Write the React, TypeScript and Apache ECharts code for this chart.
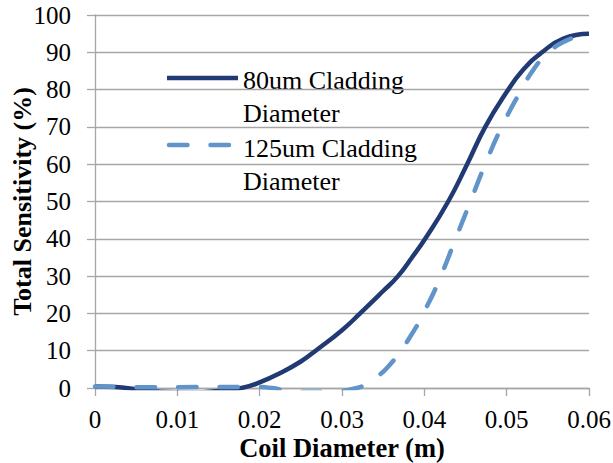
import React, { useEffect, useRef } from "react";
import * as echarts from "echarts";

const xTicks = [0, 0.01, 0.02, 0.03, 0.04, 0.05, 0.06];
const yTicks = [0, 10, 20, 30, 40, 50, 60, 70, 80, 90, 100];

const seriesNames = ["80um Cladding Diameter", "125um Cladding Diameter"];
const legendLines = [
  ["80um Cladding", "Diameter"],
  ["125um Cladding", "Diameter"],
];

const xSolid = [0, 0.0025, 0.005, 0.008, 0.012, 0.015, 0.0178, 0.02, 0.0225, 0.025, 0.0268, 0.03, 0.0322, 0.035, 0.0368, 0.0385, 0.0401, 0.0429, 0.0452, 0.0474, 0.0499, 0.052, 0.0543, 0.0569, 0.06];
const ySolid = [0.4, 0.25, -0.3, -1, -1.2, -0.8, 0, 1.5, 4, 7.1, 10, 15.5, 20, 26, 30, 35, 40, 50, 60, 70, 79, 85.3, 90, 93.7, 95];

const xDashed = [0, 0.003, 0.006, 0.01, 0.015, 0.019, 0.0215, 0.024, 0.028, 0.0318, 0.0335, 0.0356, 0.0383, 0.0405, 0.042, 0.0438, 0.0456, 0.0474, 0.0494, 0.0518, 0.0533, 0.055, 0.0573, 0.06];
const yDashed = [0.4, 0.3, 0.2, 0.2, 0.3, 0.3, 0, -1, -1, 0, 2, 5.7, 13.8, 22.7, 30, 40, 50, 60, 70, 80, 85.5, 89.8, 93.2, 95];

const SOLID = "#213a73";
const DASHED = "#6195c9";
const GRID = "#a6a6a6";
const FONT = "'Liberation Serif', 'Times New Roman', Times, serif";

export default function App() {
  const ref = useRef<HTMLDivElement>(null);
  useEffect(() => {
    if (!ref.current) return;
    const chart = echarts.init(ref.current, undefined, { renderer: "svg" });
    const pair = (xs: number[], ys: number[]) => xs.map((x, i) => [x, ys[i]]);
    chart.setOption({
      animation: false,
      backgroundColor: "#ffffff",
      textStyle: { fontFamily: FONT },
      grid: { left: 95, right: 24, top: 15, bottom: 75, containLabel: false, outerBoundsMode: "none" },
      xAxis: {
        type: "value",
        min: xTicks[0],
        max: xTicks[xTicks.length - 1],
        interval: 0.01,
        name: "Coil Diameter (m)",
        nameLocation: "middle",
        nameGap: 46,
        nameMoveOverlap: false,
        nameTextStyle: { fontFamily: FONT, fontSize: 26.5, fontWeight: "bold", color: "#000" },
        axisLine: { show: true, lineStyle: { color: GRID, width: 1.3 } },
        axisTick: { show: true, length: 8, lineStyle: { color: GRID, width: 1.3 } },
        splitLine: { show: false },
        axisLabel: {
          fontFamily: FONT,
          fontSize: 25,
          color: "#000",
          margin: 19,
          formatter: (v: number) => (v === 0 ? "0" : v.toFixed(2)),
        },
      },
      yAxis: {
        type: "value",
        min: yTicks[0],
        max: yTicks[yTicks.length - 1],
        interval: 10,
        name: "Total Sensitivity (%)",
        nameLocation: "middle",
        nameGap: 60,
        nameMoveOverlap: false,
        nameTextStyle: { fontFamily: FONT, fontSize: 26, fontWeight: "bold", color: "#000" },
        axisLine: { show: true, lineStyle: { color: GRID, width: 1.3 } },
        axisTick: { show: true, length: 8, lineStyle: { color: GRID, width: 1.3 } },
        splitLine: { show: true, lineStyle: { color: GRID, width: 1.3 } },
        axisLabel: { fontFamily: FONT, fontSize: 25, color: "#000", margin: 24 },
      },
      series: [
        {
          name: seriesNames[0],
          type: "line",
          data: pair(xSolid, ySolid),
          showSymbol: false,
          symbol: "none",
          smooth: 0.5,
          clip: true,
          lineStyle: { color: SOLID, width: 4.5, type: "solid", cap: "butt" },
        },
        {
          name: seriesNames[1],
          type: "line",
          data: pair(xDashed, yDashed),
          showSymbol: false,
          symbol: "none",
          smooth: 0.5,
          clip: true,
          lineStyle: { color: DASHED, width: 4.5, type: [18.5, 23], cap: "round" },
        },
      ],
      graphic: [
        {
          type: "line",
          shape: { x1: 167, y1: 78, x2: 238, y2: 78 },
          style: { stroke: SOLID, lineWidth: 4.5 },
        },
        {
          type: "text",
          x: 243,
          y: 63.5,
          style: {
            text: legendLines[0].join("\n"),
            fontFamily: FONT,
            fontSize: 26,
            lineHeight: 33,
            fill: "#000",
            verticalAlign: "top",
            align: "left",
          },
        },
        {
          type: "line",
          shape: { x1: 169, y1: 145, x2: 229, y2: 145 },
          style: { stroke: DASHED, lineWidth: 4.5, lineDash: [18.5, 23], lineCap: "round" },
        },
        {
          type: "text",
          x: 243,
          y: 131.5,
          style: {
            text: legendLines[1].join("\n"),
            fontFamily: FONT,
            fontSize: 26,
            lineHeight: 33,
            fill: "#000",
            verticalAlign: "top",
            align: "left",
          },
        },
      ],
    });
    return () => chart.dispose();
  }, []);
  return (
    <div
      ref={ref}
      style={{ position: "absolute", left: 0, top: 0, width: 613, height: 463 }}
    />
  );
}
